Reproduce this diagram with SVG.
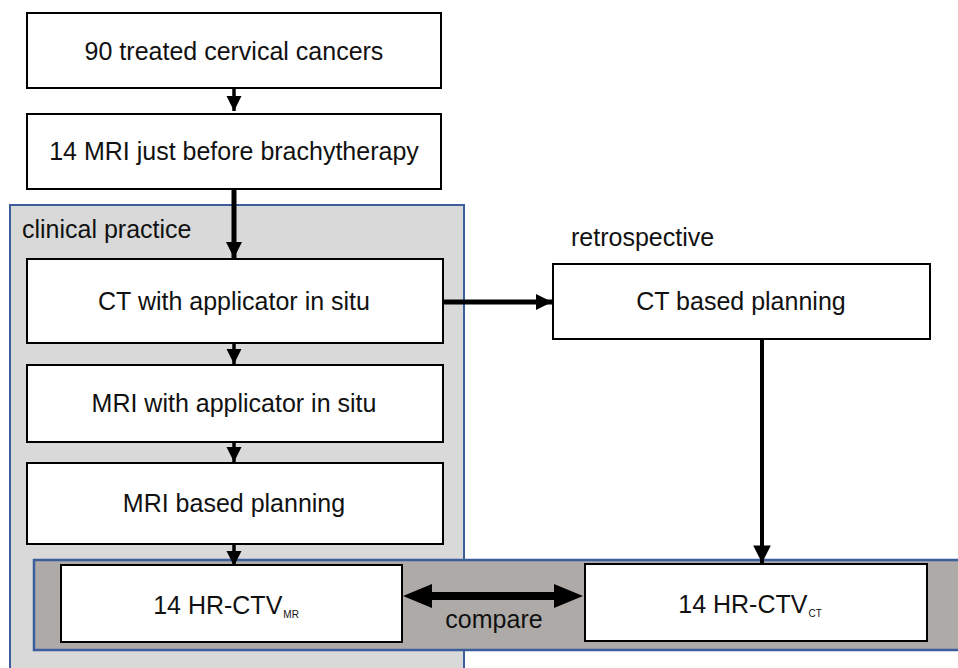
<svg xmlns="http://www.w3.org/2000/svg" width="958" height="668" viewBox="0 0 958 668">
<style>
.box{fill:#ffffff;stroke:#000000;stroke-width:2}
.t{font-family:"Liberation Sans",Arial,Helvetica,sans-serif;font-size:25px;fill:#111111;text-anchor:middle}
.tl{font-family:"Liberation Sans",Arial,Helvetica,sans-serif;font-size:25px;fill:#111111}
.sub{font-size:10px;fill:#111111}
.ln{stroke:#000000;fill:none}
</style>
<defs>
<marker id="ah" viewBox="0 0 10 10" refX="10" refY="5" markerWidth="3.2" markerHeight="3.2" orient="auto" markerUnits="strokeWidth">
<path d="M0,0 L10,5 L0,10 Z" fill="#000000"/>
</marker>
<marker id="ahs" viewBox="0 0 10 10" refX="10" refY="5" markerWidth="4.4" markerHeight="4.4" orient="auto" markerUnits="strokeWidth">
<path d="M0,0 L10,5 L0,10 Z" fill="#000000"/>
</marker>
</defs>
<g id="panel-clinical">
<rect x="10" y="205" width="454" height="480" fill="#d9d9d9" stroke="#3d5e9c" stroke-width="2"/>
<text class="tl" x="22" y="238">clinical practice</text>
</g>
<g id="label-retrospective">
<text class="tl" x="571" y="246">retrospective</text>
</g>
<g id="band-compare">
<rect x="34" y="560" width="940" height="90" fill="#aeaaa7" stroke="#3d5e9c" stroke-width="2.5"/>
</g>
<g id="n1">
<rect class="box" x="27" y="13" width="414" height="75"/>
<text class="t" x="234" y="60">90 treated cervical cancers</text>
</g>
<g id="n2">
<rect class="box" x="27" y="114" width="414" height="75"/>
<text class="t" x="234" y="160">14 MRI just before brachytherapy</text>
</g>
<g id="n3">
<rect class="box" x="27" y="259" width="416" height="84"/>
<text class="t" x="234" y="310">CT with applicator in situ</text>
</g>
<g id="n4">
<rect class="box" x="27" y="365" width="416" height="77"/>
<text class="t" x="234" y="412">MRI with applicator in situ</text>
</g>
<g id="n5">
<rect class="box" x="27" y="463" width="416" height="81"/>
<text class="t" x="234" y="512">MRI based planning</text>
</g>
<g id="n6">
<rect class="box" x="553" y="264" width="377" height="75"/>
<text class="t" x="741" y="310">CT based planning</text>
</g>
<g id="n7">
<rect class="box" x="61" y="565" width="341" height="77"/>
<text class="t" x="226" y="614">14 HR-CTV<tspan class="sub" dx="1" dy="4">MR</tspan></text>
</g>
<g id="n8">
<rect class="box" x="585" y="564" width="342" height="77"/>
<text class="t" x="750" y="613">14 HR-CTV<tspan class="sub" dx="1" dy="4">CT</tspan></text>
</g>
<g id="connectors">
<line class="ln" x1="234" y1="88" x2="234" y2="111" stroke-width="3.5" marker-end="url(#ahs)"/>
<line class="ln" x1="234" y1="189" x2="234" y2="258" stroke-width="5" marker-end="url(#ah)"/>
<line class="ln" x1="234" y1="343" x2="234" y2="364" stroke-width="3.5" marker-end="url(#ahs)"/>
<line class="ln" x1="234" y1="442" x2="234" y2="462" stroke-width="3.5" marker-end="url(#ahs)"/>
<line class="ln" x1="234" y1="544" x2="234" y2="566" stroke-width="3.5" marker-end="url(#ahs)"/>
<line class="ln" x1="443" y1="302" x2="552" y2="302" stroke-width="5" marker-end="url(#ah)"/>
<line class="ln" x1="762" y1="339" x2="762" y2="563" stroke-width="4" marker-end="url(#ahs)"/>
<path d="M403,596 L432,584 L432,592 L554,592 L554,584 L583,596 L554,608 L554,600 L432,600 L432,608 Z" fill="#000000"/>
<text class="t" x="494" y="628">compare</text>
</g>
</svg>
